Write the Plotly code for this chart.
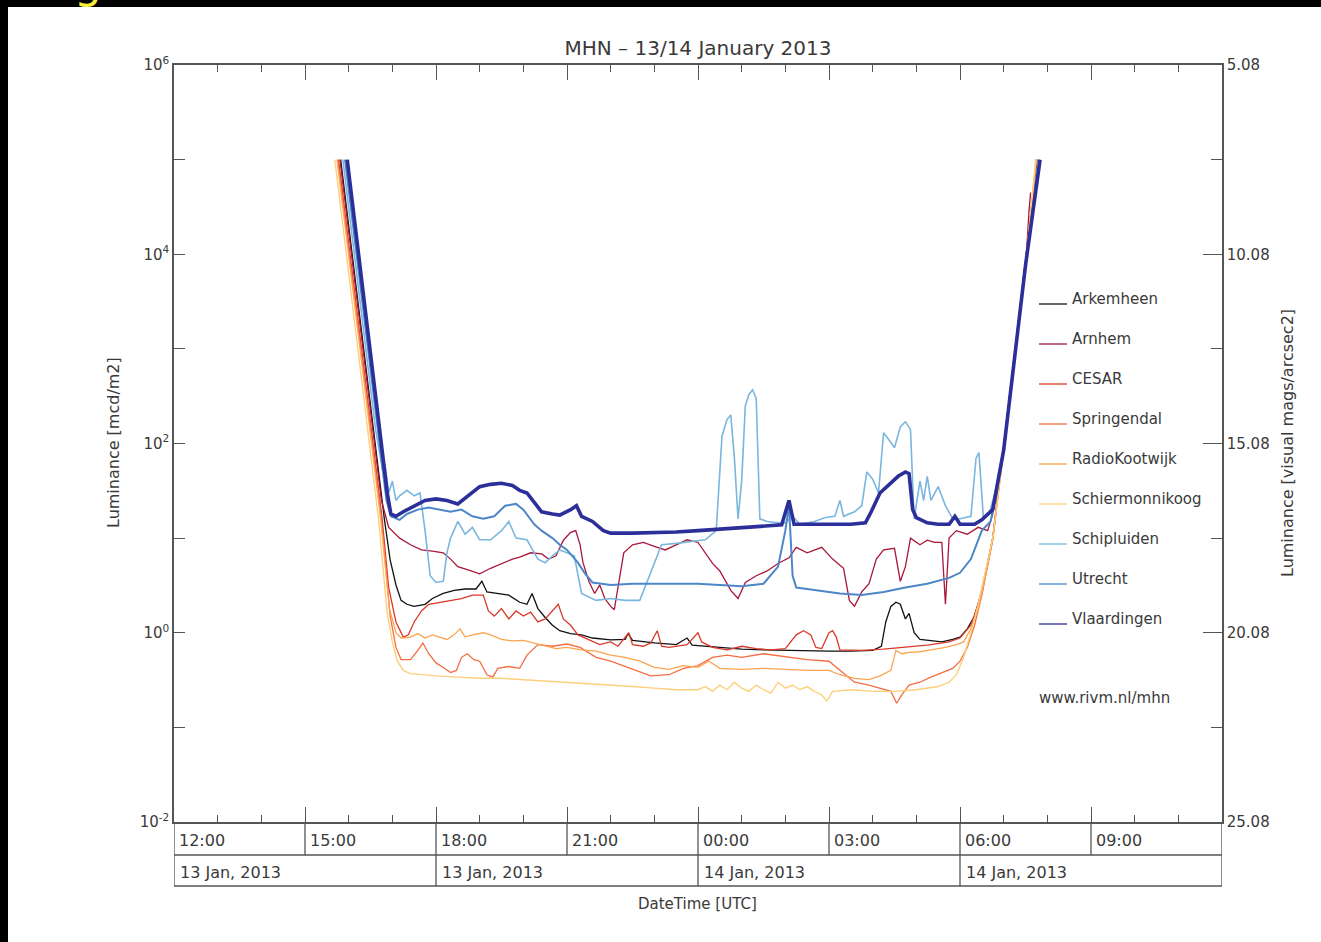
import plotly.graph_objects as go

# ---------------- data (time UTC "HH:MM", luminance mcd/m2) ----------------
stations = ["Arkemheen", "Arnhem", "CESAR", "Springendal", "RadioKootwijk",
            "Schiermonnikoog", "Schipluiden", "Utrecht", "Vlaardingen"]
colors = ["#111111", "#a8173a", "#d93a2b", "#f46d43", "#fba450",
          "#fdcf7c", "#7ab6de", "#4d87c7", "#2c2f99"]
widths = [1.3, 1.3, 1.3, 1.3, 1.3, 1.4, 1.6, 2.0, 3.6]

arkemheen = [("15:49",1e5),("16:04",11200),("16:19",1260),("16:34",141),("16:49",16),("16:57",5.9),("17:05",3.2),("17:12",2.2),("17:20",2.0),("17:30",1.9),("17:45",2.0),("17:55",2.3),("18:10",2.6),("18:25",2.8),("18:40",2.9),("18:55",2.9),("19:03",3.5),("19:10",2.7),("19:25",2.6),("19:40",2.5),("19:55",2.1),("20:05",2.0),("20:12",2.6),("20:20",1.8),("20:30",1.45),("20:40",1.2),("20:50",1.05),("21:05",0.98),("21:20",0.95),("21:35",0.88),("22:00",0.84),("22:20",0.85),("22:24",0.98),("22:30",0.83),("23:00",0.78),("23:30",0.75),("23:45",0.88),("23:52",0.74),("00:30",0.70),("01:00",0.67),("01:30",0.66),("02:00",0.65),("02:30",0.64),("03:00",0.64),("03:30",0.64),("04:00",0.65),("04:12",0.72),("04:18",1.3),("04:25",1.9),("04:32",2.1),("04:38",2.0),("04:45",1.4),("04:50",1.6),("04:57",1.0),("05:05",0.85),("05:20",0.82),("05:35",0.8),("05:50",0.85),("06:00",0.9),("06:10",1.1),("06:20",1.5),("06:30",2.8),("06:45",10),("07:00",95),("07:15",850),("07:30",8500),("07:46",1e5)]

arnhem = [("15:48",1e5),("16:03",11200),("16:18",1260),("16:33",141),("16:45",25),("16:55",13),("17:10",10),("17:25",8.5),("17:40",7.5),("17:55",7.3),("18:10",7),("18:20",6),("18:30",5),("18:45",4.6),("19:00",4.2),("19:15",4.8),("19:30",5.4),("19:45",6),("19:55",6.3),("20:10",7),("20:25",6.8),("20:35",6),("20:45",6.5),("20:55",9.5),("21:05",11.5),("21:12",12),("21:18",8.5),("21:22",5.5),("21:30",3.5),("21:38",2.6),("21:45",3.2),("21:52",2.3),("22:00",1.9),("22:05",1.75),("22:10",3),("22:18",7),("22:30",8.5),("22:45",9),("23:00",8.2),("23:15",7.5),("23:30",8.5),("23:45",9.6),("00:00",9),("00:10",7),("00:20",5.4),("00:30",4.5),("00:45",2.8),("00:55",2.3),("01:05",3.4),("01:20",4),("01:35",4.5),("01:50",5.4),("02:05",6.2),("02:15",8),("02:30",7),("02:50",8),("03:05",6),("03:20",4.8),("03:28",2.2),("03:35",1.9),("03:45",2.7),("03:55",3.3),("04:05",6),("04:15",7.5),("04:30",7.8),("04:38",3.5),("04:45",5),("04:52",10),("05:05",8.5),("05:15",9.5),("05:25",9),("05:35",9),("05:40",2.0),("05:45",10),("05:55",12),("06:10",11),("06:25",13),("06:38",12),("06:45",18),("07:00",80),("07:15",700),("07:30",7000),("07:35",30000),("07:37",45000)]

cesar = [("15:46",1e5),("16:01",11200),("16:16",1260),("16:31",141),("16:46",16),("16:55",3.0),("17:05",1.3),("17:15",0.9),("17:22",0.95),("17:30",1.3),("17:40",1.7),("17:50",2.0),("18:05",2.1),("18:20",2.2),("18:35",2.3),("18:50",2.5),("19:05",2.5),("19:12",1.7),("19:20",1.5),("19:30",1.8),("19:40",1.4),("19:50",1.7),("20:00",1.5),("20:10",1.65),("20:20",1.3),("20:30",1.4),("20:40",1.7),("20:48",2.0),("20:55",1.4),("21:05",1.2),("21:15",0.95),("21:30",0.85),("21:45",0.75),("22:00",0.8),("22:10",0.72),("22:25",1.0),("22:30",0.75),("22:45",0.72),("22:55",0.78),("23:04",1.05),("23:10",0.72),("23:20",0.7),("23:45",0.75),("00:00",1.0),("00:05",0.8),("00:20",0.7),("00:40",0.66),("01:00",0.72),("01:20",0.68),("01:40",0.66),("02:00",0.68),("02:15",0.95),("02:25",1.05),("02:35",0.95),("02:42",0.7),("02:50",0.68),("03:00",1.0),("03:05",1.05),("03:10",0.9),("03:15",0.66),("03:45",0.65),("04:15",0.67),("04:45",0.7),("05:15",0.74),("05:45",0.8),("06:00",0.88),("06:15",1.2),("06:30",2.6),("06:45",10),("07:00",92),("07:15",820),("07:30",8200),("07:45",1e5)]

springendal = [("15:45",1e5),("16:00",11200),("16:15",1260),("16:30",141),("16:45",16),("16:57",1.5),("17:05",0.7),("17:12",0.52),("17:25",0.52),("17:35",0.65),("17:42",0.78),("17:50",0.6),("18:00",0.48),("18:10",0.43),("18:20",0.38),("18:28",0.4),("18:35",0.55),("18:43",0.6),("18:52",0.52),("19:00",0.5),("19:10",0.36),("19:18",0.34),("19:25",0.42),("19:40",0.44),("19:55",0.42),("20:05",0.58),("20:20",0.75),("20:40",0.72),("21:00",0.76),("21:18",0.7),("21:40",0.55),("22:00",0.5),("22:20",0.44),("22:40",0.38),("22:55",0.35),("23:20",0.36),("23:40",0.42),("00:00",0.45),("00:20",0.55),("00:40",0.58),("01:00",0.55),("01:30",0.6),("02:00",0.56),("02:30",0.52),("03:00",0.5),("03:15",0.4),("03:35",0.3),("03:55",0.28),("04:10",0.26),("04:25",0.24),("04:33",0.18),("04:40",0.22),("04:50",0.28),("05:05",0.3),("05:20",0.34),("05:35",0.38),("05:50",0.42),("06:00",0.5),("06:10",0.7),("06:20",1.2),("06:30",2.5),("06:45",9.5),("07:00",85),("07:15",780),("07:30",7800),("07:45",1e5)]

radiokootwijk = [("15:44",1e5),("15:59",11200),("16:14",1260),("16:29",141),("16:44",16),("16:56",1.8),("17:05",1.0),("17:12",0.88),("17:25",0.9),("17:35",0.98),("17:45",0.88),("17:55",0.95),("18:05",0.9),("18:15",0.85),("18:25",0.95),("18:33",1.1),("18:40",0.9),("18:50",0.95),("19:05",1.0),("19:15",0.95),("19:30",0.85),("19:45",0.82),("20:00",0.83),("20:15",0.78),("20:30",0.72),("20:45",0.68),("21:00",0.7),("21:20",0.66),("21:40",0.64),("22:00",0.58),("22:20",0.55),("22:40",0.5),("23:00",0.43),("23:20",0.41),("23:40",0.45),("00:00",0.43),("00:15",0.5),("00:30",0.42),("01:00",0.41),("01:30",0.42),("02:00",0.41),("02:30",0.4),("03:00",0.4),("03:15",0.36),("03:35",0.33),("03:55",0.32),("04:10",0.35),("04:25",0.4),("04:32",0.65),("04:40",0.6),("04:50",0.62),("05:05",0.63),("05:20",0.66),("05:40",0.7),("05:55",0.75),("06:05",0.8),("06:15",1.1),("06:25",1.8),("06:35",4),("06:45",10),("07:00",85),("07:15",780),("07:30",7700),("07:45",1e5)]

schiermonnikoog = [("15:41",1e5),("15:56",11200),("16:11",1260),("16:26",141),("16:41",16),("16:53",1.6),("17:00",0.8),("17:07",0.5),("17:15",0.4),("17:25",0.37),("17:40",0.36),("18:00",0.35),("18:30",0.34),("19:00",0.33),("19:30",0.33),("20:00",0.32),("20:30",0.31),("21:00",0.3),("21:30",0.29),("22:00",0.28),("22:30",0.27),("23:00",0.26),("23:30",0.25),("00:00",0.25),("00:10",0.27),("00:20",0.24),("00:30",0.28),("00:40",0.25),("00:50",0.3),("01:00",0.26),("01:10",0.24),("01:20",0.28),("01:30",0.25),("01:40",0.23),("01:50",0.3),("02:00",0.26),("02:10",0.28),("02:20",0.25),("02:30",0.27),("02:40",0.24),("02:50",0.22),("02:57",0.19),("03:05",0.24),("03:30",0.25),("04:00",0.24),("04:30",0.24),("05:00",0.25),("05:30",0.27),("05:45",0.3),("05:55",0.36),("06:05",0.55),("06:15",1.0),("06:25",2.0),("06:35",4.5),("06:45",10),("07:00",85),("07:15",750),("07:30",7500),("07:44",1e5)]

schipluiden = [("15:52",1e5),("16:07",11200),("16:22",1260),("16:37",141),("16:47",50),("16:50",60),("16:55",30),("17:00",40),("17:05",25),("17:10",28),("17:20",32),("17:30",28),("17:38",30),("17:45",12),("17:52",4),("18:00",3.4),("18:10",3.5),("18:15",7),("18:20",10),("18:30",15),("18:40",11),("18:50",13),("19:00",9.6),("19:15",9.6),("19:30",12),("19:40",15),("19:50",10),("20:05",9.6),("20:20",6),("20:30",5.5),("20:40",6.5),("20:50",7.5),("21:00",7),("21:10",6.5),("21:20",2.6),("21:40",2.2),("22:00",2.3),("22:20",2.2),("22:40",2.2),("22:50",3.5),("23:00",5.5),("23:10",8.5),("23:30",8.8),("23:50",9.2),("00:10",9.6),("00:25",12),("00:33",120),("00:40",180),("00:45",200),("00:50",70),("00:55",16),("01:00",40),("01:05",250),("01:10",330),("01:15",370),("01:20",300),("01:25",16),("01:35",15),("01:50",14.5),("02:00",14.5),("02:10",17),("02:20",14),("02:40",15),("02:55",16.5),("03:08",17),("03:15",25),("03:20",17),("03:35",19),("03:45",22),("03:52",50),("04:00",42),("04:08",30),("04:15",130),("04:22",110),("04:30",90),("04:38",150),("04:45",170),("04:52",140),("04:57",16),("05:05",40),("05:10",25),("05:15",45),("05:20",25),("05:30",35),("05:40",22),("05:50",16),("06:00",16),("06:15",17),("06:22",70),("06:26",80),("06:32",17),("06:40",18),("06:48",30),("07:00",90),("07:15",820),("07:30",8000),("07:48",1e5)]

utrecht = [("15:55",1e5),("16:10",11200),("16:25",1260),("16:40",141),("16:52",25),("16:58",17),("17:10",15.6),("17:20",18),("17:35",20),("17:50",21),("18:05",20),("18:20",19),("18:35",20),("18:50",17),("19:05",16),("19:20",17),("19:35",22),("19:50",23),("20:00",20),("20:15",14),("20:25",12),("20:40",10),("20:50",8.5),("21:00",7.5),("21:15",5.5),("21:25",4.2),("21:35",3.4),("22:00",3.2),("22:30",3.3),("23:00",3.3),("23:30",3.3),("00:00",3.3),("00:30",3.2),("01:00",3.1),("01:30",3.3),("01:50",5),("02:00",12),("02:05",22),("02:10",4),("02:15",3.0),("02:45",2.8),("03:15",2.6),("03:45",2.5),("04:15",2.7),("04:45",3.0),("05:15",3.3),("05:45",3.8),("06:00",4.3),("06:15",6),("06:30",12),("06:42",15),("06:50",30),("07:00",88),("07:15",800),("07:30",7800),("07:49",1e5)]

vlaardingen = [("15:58",1e5),("16:13",11200),("16:28",1260),("16:43",141),("16:53",30),("16:58",18),("17:05",17),("17:15",19),("17:30",22),("17:45",25),("18:00",26),("18:15",25),("18:30",23),("18:45",28),("19:00",35),("19:15",37),("19:30",38),("19:45",36),("19:55",32),("20:05",30),("20:15",24),("20:25",19),("20:40",18),("20:50",17.5),("21:05",20),("21:13",22),("21:20",17),("21:35",15),("21:50",12),("22:00",11.3),("22:30",11.3),("23:00",11.4),("23:30",11.6),("00:00",12),("00:30",12.5),("01:00",13),("01:30",13.3),("01:55",13.8),("02:05",25),("02:12",14),("02:30",14),("03:00",14),("03:30",14),("03:50",14.5),("03:58",19),("04:10",30),("04:20",35),("04:35",45),("04:45",50),("04:50",48),("04:55",20),("05:00",16.5),("05:15",14.5),("05:30",14),("05:45",14),("05:53",17),("06:00",14),("06:20",14),("06:30",15.6),("06:45",20),("07:00",85),("07:15",780),("07:30",7600),("07:50",1e5)]

series = [arkemheen, arnhem, cesar, springendal, radiokootwijk,
          schiermonnikoog, schipluiden, utrecht, vlaardingen]

y_tickvals = [1e-2, 1e0, 1e2, 1e4, 1e6]
y_ticktext = ["10<sup>-2</sup>", "10<sup>0</sup>", "10<sup>2</sup>", "10<sup>4</sup>", "10<sup>6</sup>"]
mag_tickvals = [5.08, 10.08, 15.08, 20.08, 25.08]
mag_ticktext = ["5.08", "10.08", "15.08", "20.08", "25.08"]
time_ticks = ["2013-01-13 12:00", "2013-01-13 15:00", "2013-01-13 18:00", "2013-01-13 21:00",
              "2013-01-14 00:00", "2013-01-14 03:00", "2013-01-14 06:00", "2013-01-14 09:00"]
time_labels = ["12:00", "15:00", "18:00", "21:00", "00:00", "03:00", "06:00", "09:00"]
date_ticks = ["2013-01-13 12:00", "2013-01-13 18:00", "2013-01-14 00:00", "2013-01-14 06:00"]
date_labels = ["13 Jan, 2013", "13 Jan, 2013", "14 Jan, 2013", "14 Jan, 2013"]
x_start, x_end = "2013-01-13 12:00", "2013-01-14 12:00"


def dt(hhmm):
    h = int(hhmm[:2])
    day = "13" if h >= 12 else "14"
    return f"2013-01-{day} {hhmm}"


W, H = 1321, 942
L, R, T, B = 174, 99, 65, 120
PH = H - T - B


def py(pix):  # pixel row -> paper y
    return (H - B - pix) / PH


def px(pix):  # pixel column -> paper x
    return (pix - L) / (W - L - R)


FONT = "DejaVu Sans"
TXT = "#3a3a3a"
AX = "#555555"

fig = go.Figure()
for name, col, wd, data in zip(stations, colors, widths, series):
    fig.add_trace(go.Scatter(x=[dt(t) for t, _ in data], y=[v for _, v in data],
                             mode="lines", name=name, showlegend=False,
                             line=dict(color=col, width=wd)))
# carrier for the right-hand magnitude axis
fig.add_trace(go.Scatter(x=[x_start], y=[None], yaxis="y2", mode="lines",
                         showlegend=False, hoverinfo="skip"))

hours = [f"2013-01-13 {h:02d}:00" for h in range(12, 24)] + [f"2013-01-14 {h:02d}:00" for h in range(0, 13)]

fig.update_layout(
    width=W, height=H, margin=dict(l=L, r=R, t=T, b=B),
    paper_bgcolor="white", plot_bgcolor="white",
    font=dict(family=FONT, color=TXT, size=15),
    title=dict(text="MHN – 13/14 January 2013", x=0.5, xref="paper",
               y=1 - 48 / H, yref="container", xanchor="center", yanchor="middle",
               font=dict(size=20, color=TXT, family=FONT)),
    xaxis=dict(type="date", range=[x_start, x_end], showline=True, linecolor=AX, linewidth=1.5,
               mirror="ticks", ticks="inside", ticklen=15, tickwidth=1.3, tickcolor=AX,
               tickmode="array", tickvals=time_ticks, showticklabels=False,
               showgrid=False, zeroline=False,
               minor=dict(tickmode="array", tickvals=hours, ticks="inside", ticklen=7,
                          tickwidth=1.2, tickcolor=AX, showgrid=False)),
    yaxis=dict(type="log", range=[-2, 6], showline=True, linecolor=AX, linewidth=1.5,
               ticks="inside", ticklen=11, tickwidth=1.3, tickcolor=AX,
               tickmode="array", tickvals=y_tickvals, ticktext=y_ticktext,
               tickfont=dict(size=15, color=TXT), showgrid=False, zeroline=False,
               minor=dict(tickmode="array", tickvals=[1e-1, 1e1, 1e3, 1e5], ticks="inside",
                          ticklen=11, tickwidth=1.3, tickcolor=AX, showgrid=False)),
    yaxis2=dict(overlaying="y", side="right", range=[25.08, 5.08], showline=True,
                linecolor=AX, linewidth=1.5, ticks="inside", ticklen=19, tickwidth=1.3,
                tickcolor=AX, tickmode="array", tickvals=mag_tickvals, ticktext=mag_ticktext,
                tickfont=dict(size=15, color=TXT), showgrid=False, zeroline=False,
                minor=dict(tickmode="array", tickvals=[7.58, 12.58, 17.58, 22.58], ticks="inside",
                           ticklen=11, tickwidth=1.3, tickcolor=AX, showgrid=False)),
)

shapes = []
ann = []
lw = 1.3
# date/time table below the axis
for yy in (py(855), py(886)):
    shapes.append(dict(type="line", xref="x", yref="paper", x0=x_start, x1=x_end, y0=yy, y1=yy,
                       line=dict(color=AX, width=lw)))
for xx in (x_start, x_end):
    shapes.append(dict(type="line", xref="x", yref="paper", x0=xx, x1=xx, y0=0, y1=py(886),
                       line=dict(color=AX, width=lw)))
for xx in time_ticks[1:]:
    shapes.append(dict(type="line", xref="x", yref="paper", x0=xx, x1=xx, y0=0, y1=py(855),
                       line=dict(color=AX, width=lw)))
for xx in date_ticks[1:]:
    shapes.append(dict(type="line", xref="x", yref="paper", x0=xx, x1=xx, y0=py(855), y1=py(886),
                       line=dict(color=AX, width=lw)))
for xx, lab in zip(time_ticks, time_labels):
    ann.append(dict(x=xx, xref="x", y=py(840), yref="paper", text=lab, showarrow=False,
                    xanchor="left", yanchor="middle", xshift=3, font=dict(size=16, color=TXT)))
for xx, lab in zip(date_ticks, date_labels):
    ann.append(dict(x=xx, xref="x", y=py(872), yref="paper", text=lab, showarrow=False,
                    xanchor="left", yanchor="middle", xshift=4, font=dict(size=16, color=TXT)))

# axis titles
ann.append(dict(x=px(697), xref="paper", y=py(904), yref="paper", text="DateTime [UTC]",
                showarrow=False, xanchor="center", yanchor="middle", font=dict(size=15, color=TXT)))
ann.append(dict(x=px(113), xref="paper", y=py(443), yref="paper", text="Luminance [mcd/m2]",
                showarrow=False, textangle=-90, xanchor="center", yanchor="middle",
                font=dict(size=16, color=TXT)))
ann.append(dict(x=px(1287), xref="paper", y=py(443), yref="paper",
                text="Luminance [visual mags/arcsec2]", xanchor="center", yanchor="middle",
                showarrow=False, textangle=-90, font=dict(size=16, color=TXT)))

# legend
for i, (name, col) in enumerate(zip(stations, colors)):
    yc = 299 + 40 * i
    shapes.append(dict(type="line", xref="paper", yref="paper", x0=px(1039), x1=px(1067),
                       y0=py(yc + 5), y1=py(yc + 5), line=dict(color=col, width=1.3)))
    ann.append(dict(x=px(1070), xref="paper", y=py(yc), yref="paper", text=name,
                    showarrow=False, xanchor="left", yanchor="middle",
                    font=dict(size=15, color=TXT)))
ann.append(dict(x=px(1037), xref="paper", y=py(698), yref="paper", text="www.rivm.nl/mhn",
                showarrow=False, xanchor="left", yanchor="middle", font=dict(size=15, color=TXT)))

# black frame at the top and left of the screenshot
shapes.append(dict(type="rect", xref="paper", yref="paper", x0=px(0), x1=px(W), y0=py(7), y1=py(-2),
                   fillcolor="black", line=dict(width=0), layer="above"))
shapes.append(dict(type="rect", xref="paper", yref="paper", x0=px(-2), x1=px(8), y0=py(H + 2), y1=py(-2),
                   fillcolor="black", line=dict(width=0), layer="above"))
ann.append(dict(x=px(88), xref="paper", y=py(10), yref="paper", text="g", showarrow=False,
                xanchor="center", yanchor="bottom", font=dict(size=44, color="#f4ef3c", family=FONT)))

fig.update_layout(shapes=shapes, annotations=ann)
fig.write_html("out.html")
